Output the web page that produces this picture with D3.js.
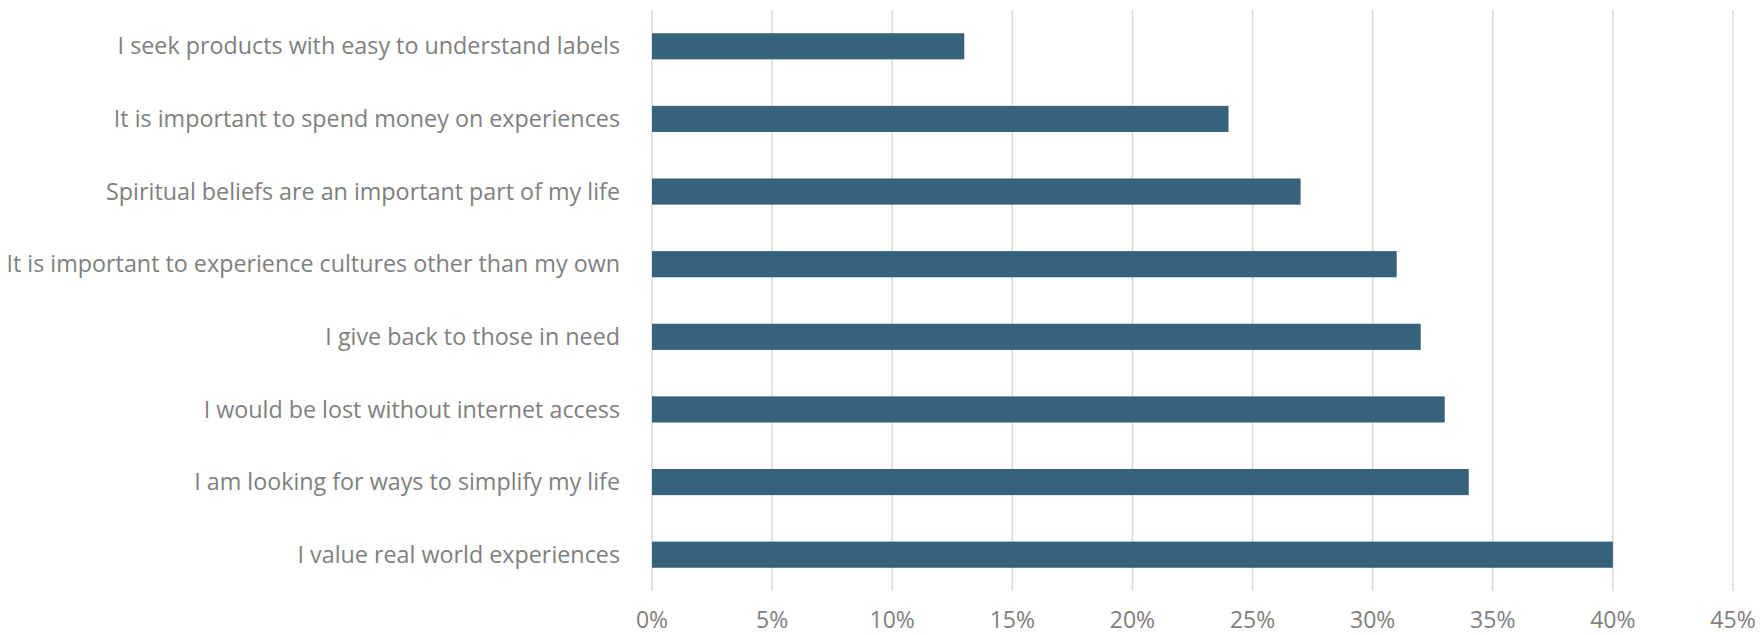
<!DOCTYPE html>
<html>
<head>
<meta charset="utf-8">
<script src="https://cdn.jsdelivr.net/npm/d3@7"></script>
<style>
  body { margin: 0; background: #fff; }
  text { font-family: "Open Sans", sans-serif; fill: #7f7f7f; }
</style>
</head>
<body>
<script>
var categories = [
  "I seek products with easy to understand labels",
  "It is important to spend money on experiences",
  "Spiritual beliefs are an important part of my life",
  "It is important to experience cultures other than my own",
  "I give back to those in need",
  "I would be lost without internet access",
  "I am looking for ways to simplify my life",
  "I value real world experiences"
];
var values = [13, 24, 27, 31, 32, 33, 34, 40];
var ticks = [0, 5, 10, 15, 20, 25, 30, 35, 40, 45];

var margin = {top: 10, right: 27, bottom: 44, left: 652}
  , width = 1760 - margin.left - margin.right
  , height = 635 - margin.top - margin.bottom;

var x = d3.scaleLinear()
          .domain([0, 45])
          .range([0, width]);

var y = d3.scaleBand()
          .domain(categories)
          .range([0, height])
          .paddingInner(0.64)
          .paddingOuter(0.32);

var svg = d3.select('body')
            .append('svg')
            .attr('width', 1760)
            .attr('height', 635);

var main = svg.append('g')
              .attr('transform', 'translate(' + margin.left + ',' + margin.top + ')');

// gridlines
main.selectAll('line.grid')
    .data(ticks)
    .enter().append('line')
    .attr('class', 'grid')
    .attr('x1', function (d) { return x(d); })
    .attr('x2', function (d) { return x(d); })
    .attr('y1', 0)
    .attr('y2', height)
    .attr('stroke', '#d9d9d9')
    .attr('stroke-width', 1.5);

// bars
main.selectAll('rect.bar')
    .data(values)
    .enter().append('rect')
    .attr('class', 'bar')
    .attr('x', 0)
    .attr('y', function (d, i) { return y(categories[i]); })
    .attr('width', function (d) { return x(d); })
    .attr('height', y.bandwidth())
    .attr('fill', '#36637b');

// category labels
main.selectAll('text.cat')
    .data(categories)
    .enter().append('text')
    .attr('class', 'cat')
    .attr('x', -32)
    .attr('y', function (d) { return y(d) + y.bandwidth() / 2; })
    .attr('dy', '0.35em')
    .attr('text-anchor', 'end')
    .style('font-size', '23.3px')
    .text(function (d) { return d; });

// x tick labels
main.selectAll('text.tick')
    .data(ticks)
    .enter().append('text')
    .attr('class', 'tick')
    .attr('x', function (d) { return x(d); })
    .attr('y', height + 37)
    .attr('text-anchor', 'middle')
    .style('font-size', '23px')
    .text(function (d) { return d + '%'; });
</script>
</body>
</html>
